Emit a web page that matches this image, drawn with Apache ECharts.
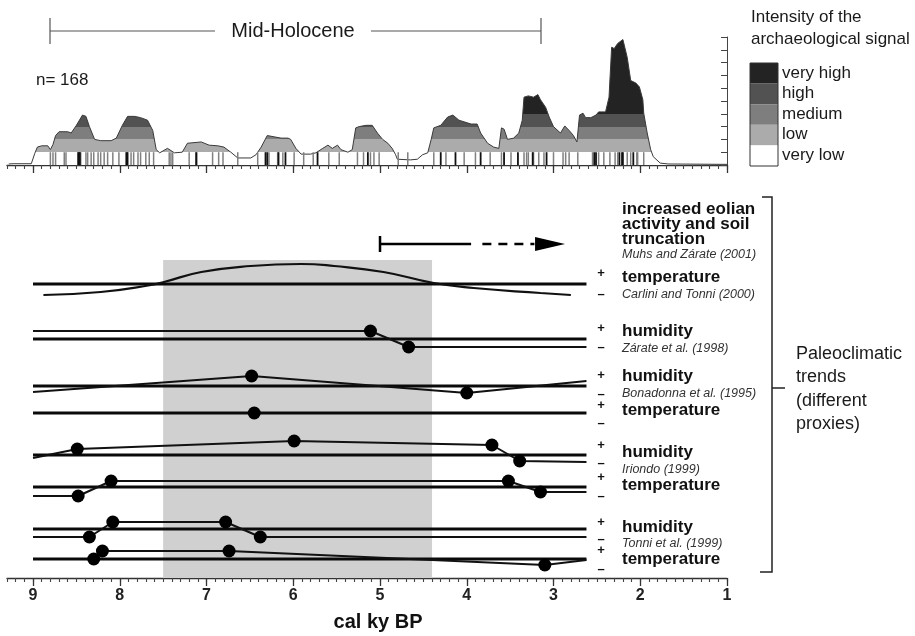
<!DOCTYPE html>
<html><head><meta charset="utf-8">
<script src="https://cdn.jsdelivr.net/npm/echarts@6/dist/echarts.min.js"></script>
<style>html,body{margin:0;padding:0;background:#fff}#c{width:915px;height:636px}</style>
</head><body><div id="c"></div>
<script>
// ---------- data ----------
const AGE_TICK_LABELS = [1, 2, 3, 4, 5, 6, 7, 8, 9];
const BAND_NAMES = ['very high', 'high', 'medium', 'low', 'very low'];
const BAND_COLORS = ['#232323', '#525252', '#7e7e7e', '#ababab', '#ffffff'];
const BAND_LIMITS = [4, 3, 2, 1, 0];
// summed probability profile [age ky BP, intensity]
const HIST_PROFILE = [
 [9.28,0.08],[9.23,0.1],[9.02,0.1],[8.98,0.9],[8.95,1.4],[8.90,1.5],[8.83,1.5],[8.80,1.2],[8.77,1.6],[8.74,2.3],
 [8.70,2.6],[8.60,2.6],[8.56,2.5],[8.50,3.1],[8.43,3.9],[8.39,3.8],[8.35,3.0],[8.29,2.0],[8.22,1.9],[8.10,1.9],
 [8.04,2.1],[7.97,3.1],[7.91,3.8],[7.83,3.8],[7.76,3.7],[7.68,3.5],[7.62,2.7],[7.58,1.2],[7.54,0.95],[7.45,1.3],
 [7.37,0.95],[7.28,1.0],[7.22,1.7],[7.06,1.8],[6.97,1.55],[6.87,1.5],[6.80,1.4],[6.72,1.0],[6.64,0.55],[6.49,0.55],
 [6.43,0.8],[6.37,1.4],[6.30,2.3],[6.22,2.2],[6.14,2.1],[6.06,2.1],[6.03,2.0],[5.97,1.3],[5.91,0.85],[5.80,0.85],
 [5.74,0.95],[5.66,1.3],[5.60,1.55],[5.55,1.3],[5.49,1.55],[5.45,1.2],[5.37,1.0],[5.32,1.2],[5.28,2.9],[5.24,3.0],
 [5.16,3.1],[5.09,3.1],[5.03,2.5],[4.97,2.0],[4.91,1.7],[4.86,1.3],[4.82,0.8],[4.80,0.45],[4.65,0.4],[4.57,0.45],
 [4.51,0.8],[4.45,0.95],[4.41,2.0],[4.38,2.9],[4.30,3.1],[4.22,3.75],[4.16,3.9],[4.09,3.5],[3.95,3.2],[3.88,3.2],
 [3.84,2.5],[3.76,1.7],[3.69,1.4],[3.63,1.3],[3.60,2.9],[3.57,2.8],[3.53,2.0],[3.46,2.1],[3.40,2.5],[3.36,3.5],
 [3.34,5.3],[3.29,5.4],[3.23,5.3],[3.18,5.5],[3.15,5.1],[3.09,4.5],[3.05,3.75],[3.00,3.0],[2.92,2.5],[2.87,3.05],
 [2.82,2.7],[2.77,2.3],[2.73,1.8],[2.70,3.9],[2.66,4.05],[2.63,3.7],[2.57,3.7],[2.51,3.9],[2.48,4.15],[2.40,4.15],
 [2.36,5.3],[2.33,9.2],[2.30,9.1],[2.26,9.5],[2.20,9.8],[2.18,9.75],[2.15,8.4],[2.11,6.6],[2.05,6.4],[2.01,6.1],
 [1.97,5.1],[1.96,4.05],[1.92,2.5],[1.88,1.2],[1.85,0.65],[1.77,0.15],[1.68,0.08],[1.0,0.05]
];
// individual dates (ky BP)
const DATES_GRAY = [8.80,8.77,8.74,8.64,8.62,8.45,8.39,8.37,8.33,8.30,8.25,8.22,8.18,8.14,8.08,8.01,7.93,7.87,7.84,
 7.79,7.76,7.70,7.66,7.61,7.43,7.41,7.39,7.20,7.11,6.93,6.86,6.81,6.64,6.41,6.28,6.18,6.12,5.99,5.88,5.77,5.59,5.47,
 5.26,5.19,5.11,5.07,5.01,4.79,4.68,4.38,4.24,4.03,3.90,3.73,3.60,3.49,3.34,3.31,3.29,3.23,3.17,3.11,3.00,2.89,2.86,
 2.82,2.72,2.55,2.48,2.42,2.35,2.29,2.26,2.15,2.11,2.04,2.03,1.96];
const DATES_DARK = [8.48,8.47,8.46,7.92,7.91,7.12,6.32,6.30,6.17,6.09,5.72,5.14,4.30,4.13,3.84,3.57,3.41,3.24,3.08,
 2.53,2.51,2.24,2.21,2.20,2.08];

// lower panel: relative trend levels
const ROW_START = 9.0, ROW_END = 2.62;
const BASELINES = [294, 239, 192, 165, 123, 91, 49, 19];
const SHADE_RANGE = [7.5, 4.4];
const SHADE_TOP = 318;
const TEMP_CARLINI = [[8.88,283],[8.22,286],[7.64,293],[7.49,296],[7.06,306],[6.49,312],[5.91,314],[5.53,312],
 [4.96,306],[4.38,295],[3.92,290],[3.15,285],[2.80,283]];
// [age, level, dot]
const HUM_ZARATE = [[9.0,247,0],[5.11,247,1],[4.67,231,1],[2.62,231,0]];
const HUM_BONADONNA = [[9.0,186,0],[6.48,202,1],[4.0,185,1],[2.62,197,0]];
const TEMP_BONADONNA = [[6.45,165,1]];
const HUM_IRIONDO = [[9.0,120,0],[8.49,129,1],[5.99,137,1],[3.71,133,1],[3.39,117,1],[2.62,116,0]];
const TEMP_IRIONDO = [[9.0,82,0],[8.48,82,1],[8.1,97,1],[3.52,97,1],[3.15,86,1],[2.62,86,0]];
const HUM_TONNI = [[9.0,41,0],[8.35,41,1],[8.08,56,1],[6.78,56,1],[6.38,41,1],[2.62,41,0]];
const TEMP_TONNI = [[8.3,19,1],[8.2,27,1],[6.74,27,1],[3.1,13,1],[2.62,18,0]];
const EOLIAN_SOLID = [[5.0,334],[3.95,334]];
const EOLIAN_DASHED = [[3.82,334],[3.22,334]];
const EOLIAN_TICK = [[5.0,342],[5.0,326]];
const EOLIAN_HEAD = [[3.04,334]];

// ---------- chart ----------
const FONT = '"Liberation Sans", Arial, sans-serif';
const chart = echarts.init(document.getElementById('c'));

function shortAxis(gi) {
  return {type:'value', gridIndex:gi, min:1, max:9.3, inverse:true, interval:0.1, position:'bottom',
    axisLine:{show:true, onZero:false, lineStyle:{color:'#333', width:1.3}},
    axisTick:{show:true, length:4, lineStyle:{color:'#444', width:1.1}},
    axisLabel:{show:false}, splitLine:{show:false}};
}
function longAxis(gi, labels) {
  return {type:'value', gridIndex:gi, min:1, max:9.3, inverse:true, position:'bottom',
    axisLine:{show:false, onZero:false},
    axisTick:{show:true, length:8, customValues:AGE_TICK_LABELS, lineStyle:{color:'#333', width:1.3}},
    axisLabel:{show:labels, customValues:AGE_TICK_LABELS, margin:10, fontFamily:FONT, fontSize:16,
      fontWeight:'bold', color:'#222'},
    splitLine:{show:false}};
}

const series = [];
// top profile
series.push({type:'line', xAxisIndex:0, yAxisIndex:0, data:HIST_PROFILE, symbol:'none', z:2,
  lineStyle:{color:'#3a3a3a', width:1}, areaStyle:{opacity:1}});
series.push({type:'scatter', xAxisIndex:0, yAxisIndex:0, z:3, symbol:'rect', symbolSize:[1.5, 12.8],
  itemStyle:{color:'#808080', opacity:1}, data:DATES_GRAY.map(a => [a, 0.5]), silent:true});
series.push({type:'scatter', xAxisIndex:0, yAxisIndex:0, z:3, symbol:'rect', symbolSize:[1.8, 12.8],
  itemStyle:{color:'#111', opacity:1}, data:DATES_DARK.map(a => [a, 0.5]), silent:true});
// shading
series.push({type:'line', xAxisIndex:2, yAxisIndex:1, data:[], z:1,
  markArea:{silent:true, itemStyle:{color:'#d0d0d0'},
    data:[[{coord:[SHADE_RANGE[0], 0]}, {coord:[SHADE_RANGE[1], SHADE_TOP]}]]}});
// baselines
BASELINES.forEach(b => series.push({type:'line', xAxisIndex:2, yAxisIndex:1, z:4, symbol:'none',
  lineStyle:{color:'#0a0a0a', width:3}, data:[[ROW_START, b], [ROW_END, b]]}));
// carlini curve
series.push({type:'line', xAxisIndex:2, yAxisIndex:1, z:5, symbol:'none', smooth:0.5,
  lineStyle:{color:'#111', width:2.2}, data:TEMP_CARLINI});
[HUM_ZARATE, HUM_BONADONNA, TEMP_BONADONNA, HUM_IRIONDO, TEMP_IRIONDO, HUM_TONNI, TEMP_TONNI].forEach(tr => {
  series.push({type:'line', xAxisIndex:2, yAxisIndex:1, z:5, symbol:'none',
    lineStyle:{color:'#111', width:2}, data:tr.map(p => [p[0], p[1]])});
  series.push({type:'scatter', xAxisIndex:2, yAxisIndex:1, z:6, symbol:'circle', symbolSize:13,
    itemStyle:{color:'#000', opacity:1}, data:tr.filter(p => p[2]).map(p => [p[0], p[1]])});
});
// eolian arrow
series.push({type:'line', xAxisIndex:2, yAxisIndex:1, z:5, symbol:'none', lineStyle:{color:'#000', width:2.5}, data:EOLIAN_SOLID});
series.push({type:'line', xAxisIndex:2, yAxisIndex:1, z:5, symbol:'none', lineStyle:{color:'#000', width:2.5}, data:EOLIAN_TICK});
series.push({type:'line', xAxisIndex:2, yAxisIndex:1, z:5, symbol:'none', lineStyle:{color:'#000', width:2.5, type:[9,7]}, data:EOLIAN_DASHED});
series.push({type:'scatter', xAxisIndex:2, yAxisIndex:1, z:5, symbol:'triangle', symbolSize:[14, 30], symbolRotate:-90,
  itemStyle:{color:'#000', opacity:1}, data:EOLIAN_HEAD});

// ---------- annotations ----------
const T = (text, x, y, size, opt) => ({type:'text', z:100, style:{
  text, x, y, font: (opt && opt.f ? opt.f + ' ' : '') + size + 'px ' + FONT,
  fill:(opt && opt.c) || '#1a1a1a', textAlign:(opt && opt.a) || 'left', align:(opt && opt.a) || 'left',
  textVerticalAlign:'middle', verticalAlign:'middle'}});
const L = (pts, w, c) => ({type:'polyline', z:100, shape:{points:pts}, style:{stroke:c || '#333', lineWidth:w || 1, fill:null}});

const graphics = [];
// Mid-Holocene bar
graphics.push(L([[50,18],[50,44]], 1.2, '#555'), L([[50,31],[215,31]], 1.2, '#555'),
  L([[371,31],[541,31]], 1.2, '#555'), L([[541,18],[541,44]], 1.2, '#555'));
graphics.push(T('Mid-Holocene', 293, 31, 20, {a:'center'}));
graphics.push(T('n= 168', 36, 80, 17));
// legend
graphics.push(T('Intensity of the', 751, 17, 17), T('archaeological signal', 751, 39, 17));
BAND_NAMES.forEach((n, i) => {
  graphics.push({type:'rect', z:100, shape:{x:750, y:63 + i*20.6, width:28, height:20.6},
    style:{fill:BAND_COLORS[i], stroke:null}});
  graphics.push(T(n, 782, 73 + i*20.6, 17));
});
graphics.push({type:'rect', z:101, shape:{x:750, y:63, width:28, height:103}, style:{fill:null, stroke:'#333', lineWidth:1}});
// right labels
const B = 'bold', I = 'italic';
const labs = [
  ['increased eolian', 209, B], ['activity and soil', 224, B], ['truncation', 239, B],
  ['Muhs and Zárate (2001)', 255, I],
  ['temperature', 277, B], ['Carlini and Tonni (2000)', 295, I],
  ['humidity', 331, B], ['Zárate et al. (1998)', 349, I],
  ['humidity', 376, B], ['Bonadonna et al. (1995)', 394, I], ['temperature', 410, B],
  ['humidity', 452, B], ['Iriondo (1999)', 470, I], ['temperature', 485, B],
  ['humidity', 527, B], ['Tonni et al. (1999)', 544, I], ['temperature', 559, B]
];
labs.forEach(l => graphics.push(l[2] === B ? T(l[0], 622, l[1], 17, {f:'bold', c:'#111'}) :
  T(l[0], 622, l[1], 12.5, {f:'italic', c:'#333'})));
const PM = [[273,'+'],[294,'–'],[328,'+'],[347,'–'],[375,'+'],[394,'–'],[405,'+'],[423,'–'],
  [445,'+'],[463,'–'],[477,'+'],[496,'–'],[522,'+'],[539,'–'],[550,'+'],[569,'–']];
PM.forEach(p => graphics.push(T(p[1], 601, p[0], 13, {f:'bold', a:'center', c:'#111'})));
// bracket
graphics.push(L([[762,197],[772,197],[772,572],[760,572]], 1.5, '#222'), L([[772,388],[785,388]], 1.5, '#222'));
['Paleoclimatic', 'trends', '(different', 'proxies)'].forEach((t, i) => graphics.push(T(t, 796, 354 + i*23.5, 18)));
graphics.push(T('cal ky BP', 378, 622, 20, {f:'bold', a:'center', c:'#111'}));

chart.setOption({
  animation:false,
  backgroundColor:'#fff',
  grid:[{left:7, right:188, top:37, height:128}, {left:7, right:188, top:190, bottom:58}],
  xAxis:[shortAxis(0), longAxis(0, false), shortAxis(1), longAxis(1, true)],
  yAxis:[
    {type:'value', gridIndex:0, min:0, max:10, interval:1, position:'right',
      axisLine:{show:true, lineStyle:{color:'#444', width:1}}, axisTick:{show:true, inside:true, length:6, lineStyle:{color:'#444'}},
      axisLabel:{show:false}, splitLine:{show:false}},
    {type:'value', gridIndex:1, min:0, max:388, show:false, splitLine:{show:false}}
  ],
  visualMap:{type:'piecewise', show:false, seriesIndex:0, dimension:1,
    pieces:BAND_LIMITS.map((lim, i) => i === 0 ? {gte:lim, color:BAND_COLORS[i]} :
      {gte:lim, lt:BAND_LIMITS[i-1], color:BAND_COLORS[i]})},
  series,
  graphic:graphics
});
</script></body></html>
